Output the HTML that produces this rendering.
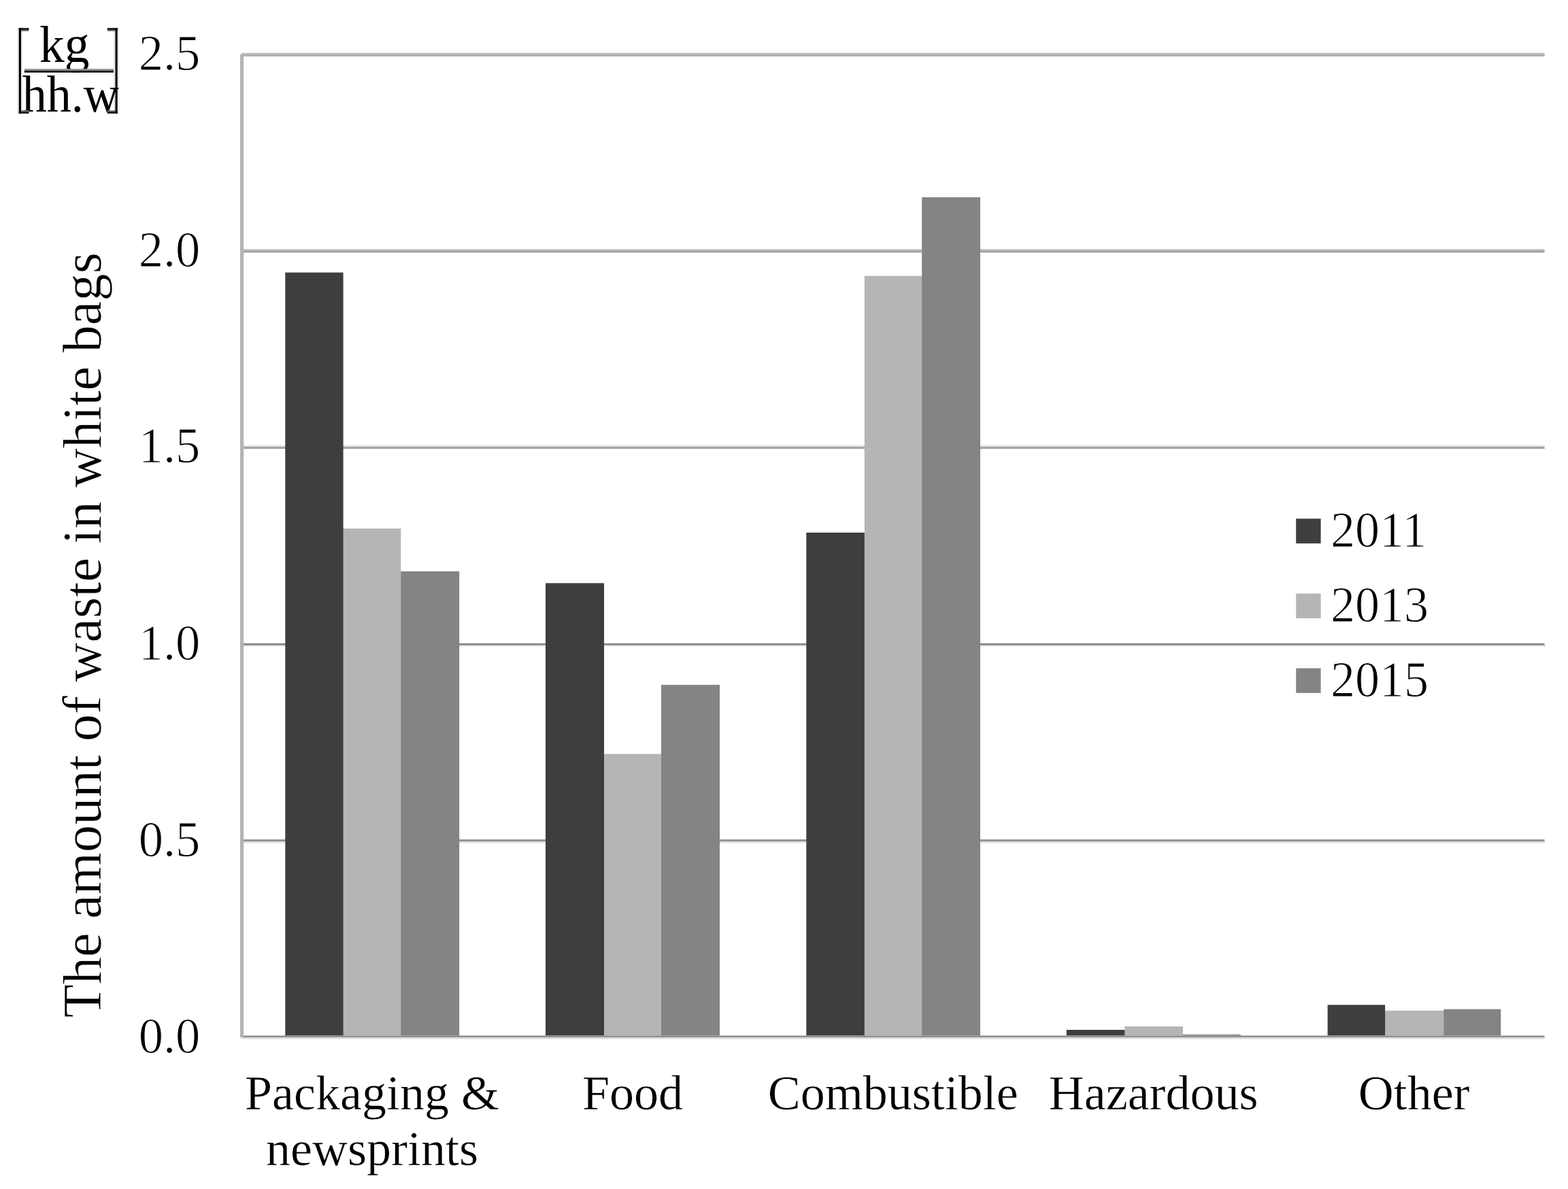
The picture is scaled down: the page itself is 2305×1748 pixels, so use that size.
<!DOCTYPE html>
<html lang="en">
<head>
<meta charset="utf-8">
<title>The amount of waste in white bags</title>
<style>
html,body{margin:0;padding:0;background:#fff;}
body{width:2305px;height:1748px;}
svg{display:block;}
text{fill:#000;stroke:#fff;stroke-width:0.4px;stroke-linejoin:round;}
text.d{stroke-width:1px;}
text.t{stroke-width:0.6px;}
text.u{stroke:none;}

</style>
</head>
<body>
<svg width="2305" height="1748" viewBox="0 0 2305 1748">
<rect x="0" y="0" width="2305" height="1748" fill="#ffffff"/>
<rect x="355.00" y="77.80" width="1915.50" height="5.20" fill="#bcbcbc"/>
<rect x="355.00" y="80.40" width="1915.50" height="2.60" fill="#b0b0b0"/>
<rect x="355.00" y="366.00" width="1915.50" height="5.20" fill="#c8c8c8"/>
<rect x="355.00" y="368.40" width="1915.50" height="2.80" fill="#a0a0a0"/>
<rect x="355.00" y="654.80" width="1915.50" height="5.00" fill="#dcdcdc"/>
<rect x="355.00" y="657.00" width="1915.50" height="2.80" fill="#a0a0a0"/>
<rect x="355.00" y="945.80" width="1915.50" height="5.20" fill="#808080"/>
<rect x="355.00" y="948.50" width="1915.50" height="2.50" fill="#eaeaea"/>
<rect x="355.00" y="1234.00" width="1915.50" height="5.10" fill="#959595"/>
<rect x="355.00" y="1237.00" width="1915.50" height="2.10" fill="#e0e0e0"/>
<rect x="587.80" y="840.00" width="87.40" height="685.00" fill="#848484"/>
<rect x="503.10" y="777.00" width="86.20" height="748.00" fill="#b5b5b5"/>
<rect x="419.30" y="400.60" width="85.30" height="1124.40" fill="#3e3e3e"/>
<rect x="886.50" y="1108.40" width="87.00" height="416.60" fill="#b5b5b5"/>
<rect x="972.00" y="1006.80" width="86.00" height="518.20" fill="#848484"/>
<rect x="802.00" y="857.30" width="86.00" height="667.70" fill="#3e3e3e"/>
<rect x="1185.30" y="783.00" width="87.00" height="742.00" fill="#3e3e3e"/>
<rect x="1270.80" y="405.60" width="85.90" height="1119.40" fill="#b5b5b5"/>
<rect x="1355.20" y="290.00" width="85.80" height="1235.00" fill="#848484"/>
<rect x="1737.50" y="1520.80" width="86.10" height="4.20" fill="#848484"/>
<rect x="1567.80" y="1514.00" width="87.00" height="11.00" fill="#3e3e3e"/>
<rect x="1653.30" y="1509.00" width="85.70" height="16.00" fill="#b5b5b5"/>
<rect x="2034.60" y="1485.80" width="89.30" height="39.20" fill="#b5b5b5"/>
<rect x="2122.40" y="1483.60" width="83.90" height="41.40" fill="#848484"/>
<rect x="1951.60" y="1477.30" width="84.50" height="47.70" fill="#3e3e3e"/>
<rect x="355.00" y="1522.50" width="1915.50" height="5.00" fill="#dcdcdc"/>
<rect x="355.00" y="1522.50" width="1915.50" height="2.50" fill="#909090"/>
<rect x="353.00" y="80.00" width="5.20" height="1445.00" fill="#b4b4b4"/>
<rect x="1905.20" y="762.50" width="36.40" height="36.40" fill="#3e3e3e"/>
<text transform="translate(1956 804.0) scale(1 1.03)" font-size="72" class="d" font-family="'Liberation Serif', 'DejaVu Serif', serif">2011</text>
<rect x="1905.20" y="872.60" width="36.40" height="36.40" fill="#b5b5b5"/>
<text transform="translate(1956 914.0) scale(1 1.03)" font-size="72" class="d" font-family="'Liberation Serif', 'DejaVu Serif', serif">2013</text>
<rect x="1905.20" y="982.40" width="36.40" height="36.40" fill="#848484"/>
<text transform="translate(1956 1024.3) scale(1 1.03)" font-size="72" class="d" font-family="'Liberation Serif', 'DejaVu Serif', serif">2015</text>
<text transform="translate(294.4 103.3) scale(1.008 1.03)" font-size="72" text-anchor="end" class="d" font-family="'Liberation Serif', 'DejaVu Serif', serif">2.5</text>
<text transform="translate(294.4 391.6) scale(1.008 1.03)" font-size="72" text-anchor="end" class="d" font-family="'Liberation Serif', 'DejaVu Serif', serif">2.0</text>
<text transform="translate(294.4 680.2) scale(1.008 1.03)" font-size="72" text-anchor="end" class="d" font-family="'Liberation Serif', 'DejaVu Serif', serif">1.5</text>
<text transform="translate(294.4 969.7) scale(1.008 1.03)" font-size="72" text-anchor="end" class="d" font-family="'Liberation Serif', 'DejaVu Serif', serif">1.0</text>
<text transform="translate(294.4 1258.7) scale(1.008 1.03)" font-size="72" text-anchor="end" class="d" font-family="'Liberation Serif', 'DejaVu Serif', serif">0.5</text>
<text transform="translate(294.4 1547.7) scale(1.008 1.03)" font-size="72" text-anchor="end" class="d" font-family="'Liberation Serif', 'DejaVu Serif', serif">0.0</text>
<text x="547.0" y="1631.0" font-size="72" text-anchor="middle" font-family="'Liberation Serif', 'DejaVu Serif', serif">Packaging &amp;</text>
<text x="547.0" y="1712.5" font-size="72" text-anchor="middle" font-family="'Liberation Serif', 'DejaVu Serif', serif">newsprints</text>
<text x="929.9" y="1631.0" font-size="72" text-anchor="middle" font-family="'Liberation Serif', 'DejaVu Serif', serif">Food</text>
<text x="1312.8" y="1631.0" font-size="72" text-anchor="middle" font-family="'Liberation Serif', 'DejaVu Serif', serif">Combustible</text>
<text x="1695.7" y="1631.0" font-size="72" text-anchor="middle" font-family="'Liberation Serif', 'DejaVu Serif', serif">Hazardous</text>
<text x="2078.6" y="1631.0" font-size="72" text-anchor="middle" font-family="'Liberation Serif', 'DejaVu Serif', serif">Other</text>
<text transform="translate(147.6 933.6) rotate(-90)" font-size="80.4" text-anchor="middle" class="t" font-family="'Liberation Serif', 'DejaVu Serif', serif">The amount of waste in white bags</text>
<rect x="25.20" y="41.20" width="2.60" height="125.60" fill="#e6e6e6"/>
<rect x="31.00" y="41.20" width="2.60" height="125.60" fill="#ececec"/>
<rect x="166.90" y="41.20" width="2.60" height="125.60" fill="#e6e6e6"/>
<rect x="172.70" y="41.20" width="2.60" height="125.60" fill="#ececec"/>
<text transform="translate(94.7 90.7) scale(1 1.04)" font-size="73.5" text-anchor="middle" class="u" font-family="'Liberation Serif', 'DejaVu Serif', serif">kg</text>
<text transform="translate(32.8 163.7) scale(1 1.045)" font-size="72" class="u" font-family="'Liberation Serif', 'DejaVu Serif', serif">hh.w</text>
<rect x="35.80" y="101.20" width="131.20" height="5.40" fill="#909090"/>
<rect x="35.80" y="103.90" width="131.20" height="2.70" fill="#181818"/>
<rect x="27.80" y="41.10" width="14.60" height="4.80" fill="#777777"/>
<rect x="27.80" y="41.10" width="14.60" height="3.00" fill="#222222"/>
<rect x="27.80" y="162.20" width="14.60" height="4.80" fill="#777777"/>
<rect x="27.80" y="164.00" width="14.60" height="3.00" fill="#222222"/>
<rect x="27.80" y="41.10" width="3.20" height="125.90" fill="#000000"/>
<rect x="157.80" y="41.10" width="15.10" height="4.80" fill="#777777"/>
<rect x="157.80" y="41.10" width="15.10" height="3.00" fill="#222222"/>
<rect x="157.80" y="162.20" width="15.10" height="4.80" fill="#777777"/>
<rect x="157.80" y="164.00" width="15.10" height="3.00" fill="#222222"/>
<rect x="169.50" y="41.10" width="3.20" height="125.90" fill="#000000"/>
</svg>
</body>
</html>
